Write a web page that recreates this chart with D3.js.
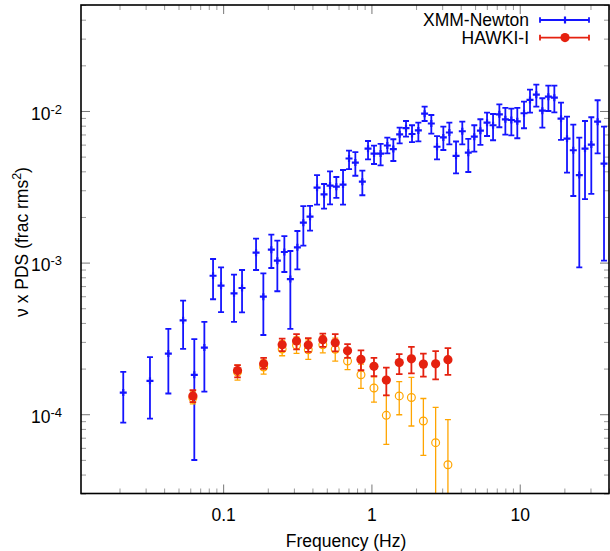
<!DOCTYPE html>
<html>
<head>
<meta charset="utf-8">
<script src="https://cdn.jsdelivr.net/npm/d3@7"></script>
<style>
  body { margin: 0; background: #fff; }
  text { font-family: "Liberation Sans", Arial, sans-serif; }
</style>
</head>
<body>
<svg id="chart" width="610" height="551"></svg>
<script>
// XMM-Newton power spectrum (nu x PDS)
var xmmFreq = [0.0212, 0.0321, 0.0427, 0.0537, 0.0639, 0.0747, 0.0855, 0.0968, 0.1184, 0.1341,
  0.1667, 0.1867, 0.2113, 0.232, 0.2587, 0.2839, 0.3167, 0.3474, 0.3855, 0.4298,
  0.4792, 0.5258, 0.5798, 0.6434, 0.7063, 0.7789, 0.8683, 0.9486, 1.041, 1.153,
  1.280, 1.405, 1.550, 1.711, 1.878, 2.072, 2.284, 2.534, 2.769, 3.054,
  3.353, 3.72, 4.10, 4.50, 4.94, 5.43, 6.02, 6.61, 7.29, 8.00,
  8.78, 9.63, 10.69, 11.73, 12.94, 14.21, 15.60, 17.12, 18.99, 20.84,
  22.98, 25.22, 27.56, 30.39, 33.52, 37.02];
var xmmPow = [1.39e-4, 1.66e-4, 2.51e-4, 4.16e-4, 1.82e-4, 2.75e-4, 8.19e-4, 7.04e-4, 6.27e-4, 6.80e-4,
  1.162e-3, 5.96e-4, 1.216e-3, 1.029e-3, 1.175e-3, 7.79e-4, 1.262e-3, 1.834e-3, 2.01e-3, 3.12e-3,
  2.82e-3, 3.22e-3, 3.17e-3, 3.27e-3, 4.86e-3, 4.57e-3, 3.42e-3, 5.64e-3, 5.24e-3, 5.24e-3,
  5.92e-3, 5.61e-3, 7.02e-3, 7.70e-3, 7.05e-3, 7.44e-3, 9.60e-3, 8.27e-3, 5.81e-3, 6.69e-3,
  7.21e-3, 5.06e-3, 7.35e-3, 5.31e-3, 6.77e-3, 7.41e-3, 8.37e-3, 8.05e-3, 9.51e-3, 8.81e-3,
  8.72e-3, 8.55e-3, 9.66e-3, 1.182e-2, 1.281e-2, 1.005e-2, 1.242e-2, 1.224e-2, 8.90e-3, 6.57e-3,
  5.51e-3, 3.78e-3, 5.64e-3, 6.00e-3, 8.50e-3, 4.49e-3];
var xmmHi = [1.90e-4, 2.38e-4, 3.66e-4, 5.61e-4, 3.13e-4, 4.07e-4, 1.056e-3, 9.31e-4, 8.32e-4, 8.94e-4,
  1.438e-3, 8.50e-4, 1.528e-3, 1.395e-3, 1.497e-3, 1.193e-3, 1.616e-3, 2.36e-3, 2.37e-3, 3.78e-3,
  3.30e-3, 4.00e-3, 3.67e-3, 4.08e-3, 5.47e-3, 5.36e-3, 4.04e-3, 6.34e-3, 5.90e-3, 6.06e-3,
  6.67e-3, 6.51e-3, 7.76e-3, 8.59e-3, 8.05e-3, 8.37e-3, 1.067e-2, 9.41e-3, 6.82e-3, 7.88e-3,
  8.37e-3, 6.29e-3, 8.50e-3, 6.54e-3, 8.05e-3, 8.82e-3, 9.74e-3, 9.55e-3, 1.107e-2, 1.047e-2,
  1.036e-2, 1.047e-2, 1.152e-2, 1.382e-2, 1.491e-2, 1.213e-2, 1.469e-2, 1.469e-2, 1.134e-2, 9.17e-3,
  8.12e-3, 6.67e-3, 8.59e-3, 9.09e-3, 1.177e-2, 7.88e-3];
var xmmLo = [8.79e-5, 9.34e-5, 1.37e-4, 2.70e-4, 4.99e-5, 1.41e-4, 5.73e-4, 4.72e-4, 4.07e-4, 4.70e-4,
  8.94e-4, 3.33e-4, 9.21e-4, 6.47e-4, 8.67e-4, 3.66e-4, 9.03e-4, 1.293e-3, 1.623e-3, 2.41e-3,
  2.27e-3, 2.42e-3, 2.67e-3, 2.41e-3, 4.14e-3, 3.74e-3, 2.78e-3, 4.80e-3, 4.47e-3, 4.38e-3,
  5.26e-3, 4.68e-3, 6.12e-3, 6.77e-3, 6.24e-3, 6.31e-3, 8.59e-3, 7.08e-3, 4.79e-3, 5.53e-3,
  6.03e-3, 3.88e-3, 6.03e-3, 3.96e-3, 5.39e-3, 5.97e-3, 6.84e-3, 6.41e-3, 7.81e-3, 6.98e-3,
  6.91e-3, 6.61e-3, 7.69e-3, 9.74e-3, 1.067e-2, 7.76e-3, 1.0e-2, 9.80e-3, 6.44e-3, 3.92e-3,
  2.75e-3, 9.31e-4, 2.62e-3, 2.84e-3, 5.26e-3, 1.029e-3];

// HAWKI-I (filled red) and the uncorrected one (open orange)
var hawkiFreq = [0.0625, 0.125, 0.1875, 0.25, 0.3125, 0.375, 0.47, 0.57, 0.69, 0.85, 1.04, 1.26, 1.54, 1.86, 2.24, 2.71, 3.28];
var hawkiPow = [1.32e-4, 1.94e-4, 2.15e-4, 2.87e-4, 3.04e-4, 2.86e-4, 3.10e-4, 2.96e-4, 2.62e-4, 2.30e-4, 2.07e-4, 1.68e-4, 2.19e-4, 2.32e-4, 2.14e-4, 2.15e-4, 2.29e-4];
var hawkiHi = [1.44e-4, 2.11e-4, 2.35e-4, 3.15e-4, 3.38e-4, 3.18e-4, 3.40e-4, 3.37e-4, 2.90e-4, 2.64e-4, 2.35e-4, 2.03e-4, 2.49e-4, 2.78e-4, 2.51e-4, 2.61e-4, 2.73e-4];
var hawkiLo = [1.20e-4, 1.75e-4, 1.99e-4, 2.61e-4, 2.68e-4, 2.58e-4, 2.78e-4, 2.60e-4, 2.35e-4, 1.95e-4, 1.78e-4, 1.33e-4, 1.84e-4, 1.86e-4, 1.77e-4, 1.70e-4, 1.82e-4];
var rawPow = [1.28e-4, 1.90e-4, 2.05e-4, 2.69e-4, 2.85e-4, 2.66e-4, 2.87e-4, 2.68e-4, 2.24e-4, 1.82e-4, 1.49e-4, 9.83e-5, 1.32e-4, 1.29e-4, 9.02e-5, 6.49e-5, 4.64e-5];
var rawHi = [1.42e-4, 2.11e-4, 2.28e-4, 3.04e-4, 3.23e-4, 3.09e-4, 3.28e-4, 3.18e-4, 2.53e-4, 2.14e-4, 1.77e-4, 1.33e-4, 1.64e-4, 1.75e-4, 1.27e-4, 1.11e-4, 9.20e-5];
var rawLo = [1.17e-4, 1.68e-4, 1.84e-4, 2.43e-4, 2.52e-4, 2.30e-4, 2.54e-4, 2.24e-4, 1.97e-4, 1.48e-4, 1.20e-4, 6.33e-5, 9.92e-5, 8.36e-5, 5.36e-5, 2.0e-5, 1.0e-5];

var xTicks = [0.1, 1, 10];
var xTickLabels = ["0.1", "1", "10"];
var yTicks = [1e-4, 1e-3, 1e-2];
var legendNames = ["XMM-Newton", "HAWKI-I"];

var svg = d3.select("#chart");
var pL = 81, pR = 609, pT = 5, pB = 493.5;

var x = d3.scaleLog().domain([0.011, 40]).range([pL, pR]);
var y = d3.scaleLog().domain([3e-5, 0.05]).range([pB, pT]);

svg.append("defs").append("clipPath").attr("id", "plotclip")
  .append("rect").attr("x", pL).attr("y", pT)
  .attr("width", pR - pL).attr("height", pB - pT);

// ticks, all inward, on the four sides
function isMajor(v, majors) {
  return majors.some(function(m) { return Math.abs(Math.log10(v) - Math.log10(m)) < 1e-6; });
}
var xMinor = x.ticks().filter(function(v) { return !isMajor(v, xTicks); });
var yMinor = y.ticks().filter(function(v) { return !isMajor(v, yTicks); });

function styleAxis(g, col) {
  g.select(".domain").remove();
  g.selectAll(".tick line").attr("stroke", col).attr("stroke-width", 1);
}

var gx = svg.append("g").attr("transform", "translate(0," + pB + ")")
  .call(d3.axisBottom(x).tickValues(xTicks).tickSize(-9).tickPadding(15)
    .tickFormat(function(d, i) { return xTickLabels[i]; }));
styleAxis(gx, "#777");
gx.selectAll(".tick text").attr("font-size", "17.5px").attr("fill", "#000")
  .attr("font-family", "Liberation Sans, Arial, sans-serif");
styleAxis(svg.append("g").attr("transform", "translate(0," + pB + ")")
  .call(d3.axisBottom(x).tickValues(xMinor).tickSize(-5).tickFormat("")), "#999");
styleAxis(svg.append("g").attr("transform", "translate(0," + pT + ")")
  .call(d3.axisTop(x).tickValues(xTicks).tickSize(-9).tickFormat("")), "#777");
styleAxis(svg.append("g").attr("transform", "translate(0," + pT + ")")
  .call(d3.axisTop(x).tickValues(xMinor).tickSize(-5).tickFormat("")), "#999");

var gy = svg.append("g").attr("transform", "translate(" + pL + ",0)")
  .call(d3.axisLeft(y).tickValues(yTicks).tickSize(-9).tickPadding(19));
styleAxis(gy, "#777");
gy.selectAll(".tick text").each(function(d) {
  var t = d3.select(this);
  t.text(null).attr("dy", "0.47em").attr("font-size", "17.5px").attr("fill", "#000")
    .attr("font-family", "Liberation Sans, Arial, sans-serif");
  t.append("tspan").text("10");
  t.append("tspan").attr("dy", "-6").attr("font-size", "13px").text(Math.round(Math.log10(d)));
});
styleAxis(svg.append("g").attr("transform", "translate(" + pL + ",0)")
  .call(d3.axisLeft(y).tickValues(yMinor).tickSize(-5).tickFormat("")), "#999");
styleAxis(svg.append("g").attr("transform", "translate(" + pR + ",0)")
  .call(d3.axisRight(y).tickValues(yTicks).tickSize(-9).tickFormat("")), "#777");
styleAxis(svg.append("g").attr("transform", "translate(" + pR + ",0)")
  .call(d3.axisRight(y).tickValues(yMinor).tickSize(-5).tickFormat("")), "#999");

// error bars
function errorBars(freq, lo, hi, color, cap, width) {
  var g = svg.append("g").attr("clip-path", "url(#plotclip)")
    .attr("stroke", color).attr("stroke-width", width).attr("fill", "none");
  var idx = d3.range(freq.length);
  g.selectAll("line.v").data(idx).join("line").attr("class", "v")
    .attr("x1", function(i) { return x(freq[i]); }).attr("x2", function(i) { return x(freq[i]); })
    .attr("y1", function(i) { return y(lo[i]); }).attr("y2", function(i) { return y(hi[i]); });
  [lo, hi].forEach(function(arr) {
    g.append("g").selectAll("line").data(idx).join("line")
      .attr("x1", function(i) { return x(freq[i]) - cap; })
      .attr("x2", function(i) { return x(freq[i]) + cap; })
      .attr("y1", function(i) { return y(arr[i]); })
      .attr("y2", function(i) { return y(arr[i]); });
  });
  return g;
}

var blue = "#1414ff", red = "#e5210f", orange = "#ffa500";

// XMM
errorBars(xmmFreq, xmmLo, xmmHi, blue, 3, 1.8);
var plus = svg.append("g").attr("clip-path", "url(#plotclip)")
  .attr("stroke", blue).attr("stroke-width", 2.2);
plus.selectAll("path").data(d3.range(xmmFreq.length)).join("path")
  .attr("d", function(i) {
    var px = x(xmmFreq[i]), py = y(xmmPow[i]);
    return "M" + (px - 3.5) + "," + py + "H" + (px + 3.5) + "M" + px + "," + (py - 3.5) + "V" + (py + 3.5);
  });

// uncorrected HAWKI (orange, open)
errorBars(hawkiFreq, rawLo, rawHi, orange, 3, 1.3);
svg.append("g").attr("clip-path", "url(#plotclip)")
  .selectAll("circle").data(d3.range(hawkiFreq.length)).join("circle")
  .attr("cx", function(i) { return x(hawkiFreq[i]); })
  .attr("cy", function(i) { return y(rawPow[i]); })
  .attr("r", 3.9).attr("fill", "none").attr("stroke", orange).attr("stroke-width", 1.2);

// HAWKI (red, filled)
errorBars(hawkiFreq, hawkiLo, hawkiHi, red, 3.3, 1.8);
svg.append("g").selectAll("circle").data(d3.range(hawkiFreq.length)).join("circle")
  .attr("cx", function(i) { return x(hawkiFreq[i]); })
  .attr("cy", function(i) { return y(hawkiPow[i]); })
  .attr("r", 4.6).attr("fill", red);

// frame
svg.append("rect").attr("x", pL).attr("y", pT)
  .attr("width", pR - pL).attr("height", pB - pT)
  .attr("fill", "none").attr("stroke", "#000").attr("stroke-width", 1.6);

// legend
var legend = svg.append("g").attr("font-size", "17.5px");
[blue, red].forEach(function(col, k) {
  var ly = 20 + k * 17.6;
  legend.append("text").attr("x", 529).attr("y", ly + 6.2).attr("text-anchor", "end")
    .attr("fill", "#000").text(legendNames[k]);
  var lg = legend.append("g").attr("stroke", col).attr("stroke-width", 1.8);
  lg.append("line").attr("x1", 540).attr("x2", 589).attr("y1", ly).attr("y2", ly);
  lg.append("line").attr("x1", 540).attr("x2", 540).attr("y1", ly - 2.8).attr("y2", ly + 2.8);
  lg.append("line").attr("x1", 589).attr("x2", 589).attr("y1", ly - 2.8).attr("y2", ly + 2.8);
  if (k === 0) {
    lg.append("path").attr("stroke-width", 2.2)
      .attr("d", "M561.5," + ly + "H568.5M565," + (ly - 3.5) + "V" + (ly + 3.5));
  } else {
    legend.append("circle").attr("cx", 565).attr("cy", ly).attr("r", 4.6).attr("fill", col);
  }
});

// axis titles
svg.append("text").attr("x", 346).attr("y", 547).attr("text-anchor", "middle")
  .attr("font-size", "17.5px").text("Frequency (Hz)");
var yl = svg.append("text").attr("transform", "translate(28,242) rotate(-90)")
  .attr("text-anchor", "middle").attr("font-size", "17.5px");
yl.append("tspan").text("ν x PDS (frac rms");
yl.append("tspan").attr("dy", "-7").attr("font-size", "12.5px").text("2");
yl.append("tspan").attr("dy", "7").text(")");
</script>
</body>
</html>
